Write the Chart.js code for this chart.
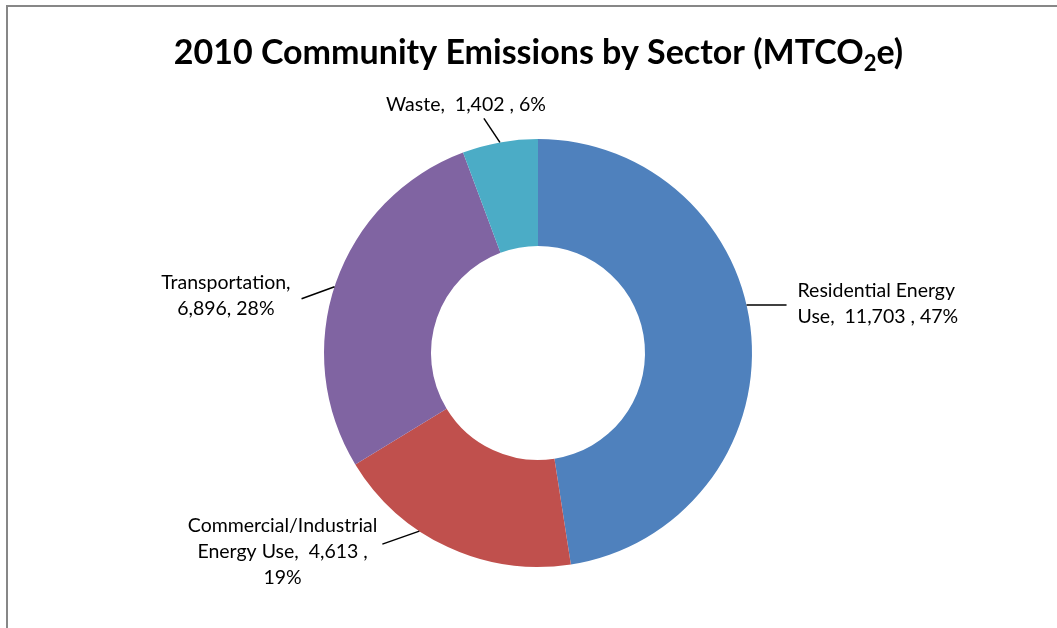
<!DOCTYPE html>
<html>
<head>
<meta charset="utf-8">
<script src="https://cdn.jsdelivr.net/npm/chart.js@4.4.1/dist/chart.umd.min.js"></script>
<style>
  body { margin: 0; background: #fff; }
  #frame { position: absolute; left: 6px; top: 5px; width: 1051px; height: 623px;
           border-left: 2px solid #878787; border-top: 2px solid #878787; }
  canvas { position: absolute; left: 0; top: 0; }
</style>
</head>
<body>
<div id="frame"></div>
<canvas id="chart" width="1057" height="628"></canvas>
<script>
// data
const categories = ['Residential Energy Use', 'Commercial/Industrial Energy Use', 'Transportation', 'Waste'];
const emissions = [11703, 4613, 6896, 1402];
const sharePct = [47, 19, 28, 6];   // as printed on the chart
const sliceColors = ['#4F81BD', '#C0504D', '#8064A2', '#4BACC6'];

const fmt = v => v.toLocaleString('en-US');

// label text, wrapped the way the original does it
const labelLines = [
  ['Residential Energy', `Use,  ${fmt(emissions[0])} , ${sharePct[0]}%`],
  ['Commercial/Industrial', `Energy Use,  ${fmt(emissions[1])} ,`, `${sharePct[1]}%`],
  ['Transportation,', `${fmt(emissions[2])}, ${sharePct[2]}%`],
  [`Waste,  ${fmt(emissions[3])} , ${sharePct[3]}%`]
];

// leader lines / label layout
const leaderAt = [0.45, 0.63, 0.49, 0.5];      // where on the slice the leader starts
const leaderVec = [[40, 0], [-37, 13], [-33, 12], [-16, -24]];
const labelSide = ['right', 'left', 'left', 'top'];
const labelGap = [11, 5, 11, 18];
const labelDy = [-1, 8, -3, -14];
const LABEL_FONT = '19.5px Lato';
const LINE_H = 26;

const labelPlugin = {
  id: 'sliceLabels',
  afterDatasetsDraw(chart) {
    const ctx = chart.ctx;
    const meta = chart.getDatasetMeta(0);
    ctx.save();
    ctx.font = LABEL_FONT;
    ctx.fillStyle = '#000';
    ctx.strokeStyle = '#000';
    ctx.lineWidth = 1.5;
    ctx.textBaseline = 'middle';
    meta.data.forEach((arc, i) => {
      const p = arc.getProps(['x', 'y', 'startAngle', 'endAngle', 'outerRadius'], true);
      const a = p.startAngle + (p.endAngle - p.startAngle) * leaderAt[i];
      const sx = p.x + p.outerRadius * Math.cos(a);
      const sy = p.y + p.outerRadius * Math.sin(a);
      const ex = sx + leaderVec[i][0];
      const ey = sy + leaderVec[i][1];
      ctx.beginPath();
      ctx.moveTo(sx, sy);
      ctx.lineTo(ex, ey);
      ctx.stroke();

      const lines = labelLines[i];
      const w = Math.max(...lines.map(l => ctx.measureText(l).width));
      const cy = ey + labelDy[i];
      lines.forEach((l, k) => {
        const y = cy + (k - (lines.length - 1) / 2) * LINE_H;
        if (labelSide[i] === 'right') {
          ctx.textAlign = 'left';
          ctx.fillText(l, ex + labelGap[i], y);
        } else if (labelSide[i] === 'left') {
          ctx.textAlign = 'center';
          ctx.fillText(l, ex - labelGap[i] - w / 2, y);
        } else {
          ctx.textAlign = 'center';
          ctx.fillText(l, ex - labelGap[i], y);
        }
      });
    });
    ctx.restore();
  }
};

// title with subscript 2
const titlePlugin = {
  id: 'subTitle',
  afterDraw(chart) {
    const ctx = chart.ctx;
    const parts = [['2010 Community Emissions by Sector (MTCO', 'bold 34px Lato', 0],
                   ['2', 'bold 22px Lato', 7],
                   ['e)', 'bold 34px Lato', 0]];
    ctx.save();
    ctx.fillStyle = '#000';
    ctx.textBaseline = 'alphabetic';
    ctx.textAlign = 'left';
    let width = 0;
    parts.forEach(p => { ctx.font = p[1]; width += ctx.measureText(p[0]).width; });
    let x = 538.5 - width / 2;
    parts.forEach(p => {
      ctx.font = p[1];
      ctx.fillText(p[0], x, 64 + p[2]);
      x += ctx.measureText(p[0]).width;
    });
    ctx.restore();
  }
};

new Chart(document.getElementById('chart'), {
  type: 'doughnut',
  data: {
    labels: categories,
    datasets: [{
      data: emissions,
      backgroundColor: sliceColors,
      borderWidth: 0,
      hoverOffset: 0
    }]
  },
  options: {
    responsive: false,
    animation: false,
    events: [],
    cutout: '50%',
    layout: { padding: { top: 139, bottom: 61, left: 19, right: 0 } },
    plugins: {
      legend: { display: false },
      tooltip: { enabled: false }
    }
  },
  plugins: [labelPlugin, titlePlugin]
});
</script>
</body>
</html>
